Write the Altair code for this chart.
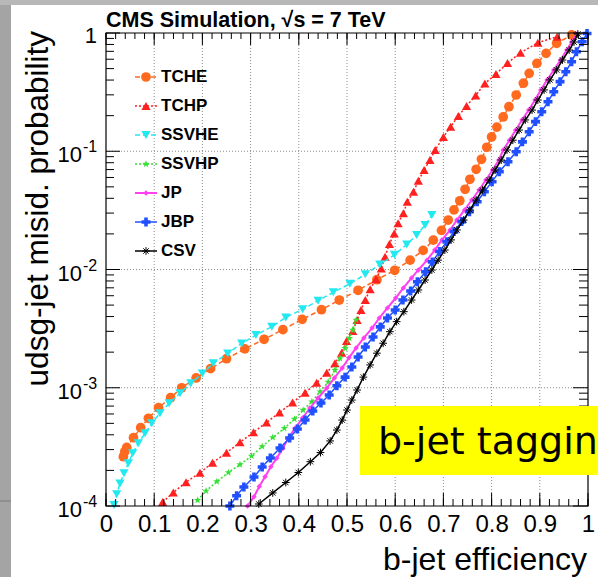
import altair as alt
import pandas as pd

W, H = 482, 473

series_names = ["TCHE", "TCHP", "SSVHE", "SSVHP", "JP", "JBP", "CSV"]

tche_eff = [0.036, 0.039, 0.043, 0.057, 0.072, 0.088, 0.109, 0.134, 0.157, 0.187, 0.217, 0.250, 0.288,
            0.328, 0.367, 0.407, 0.447, 0.484, 0.523, 0.562, 0.599, 0.631, 0.658, 0.679, 0.696, 0.710,
            0.722, 0.734, 0.745, 0.755, 0.768, 0.779, 0.790, 0.800, 0.811, 0.824, 0.836, 0.851, 0.866,
            0.878, 0.894, 0.913, 0.935, 0.966]
tche_mis = [2.61e-4, 2.88e-4, 3.13e-4, 3.78e-4, 4.59e-4, 5.52e-4, 6.78e-4, 8.24e-4, 1.0e-3, 1.21e-3,
            1.45e-3, 1.76e-3, 2.13e-3, 2.57e-3, 3.10e-3, 3.79e-3, 4.57e-3, 5.52e-3, 6.67e-3, 8.20e-3,
            9.85e-3, 1.20e-2, 1.45e-2, 1.77e-2, 2.14e-2, 2.62e-2, 3.19e-2, 3.81e-2, 4.77e-2, 5.79e-2,
            7.04e-2, 8.55e-2, 0.108, 0.132, 0.160, 0.195, 0.238, 0.299, 0.376, 0.456, 0.554, 0.673,
            0.818, 0.962]

tchp_eff = [0.1176, 0.1396, 0.166, 0.195, 0.221, 0.250, 0.278, 0.306, 0.333, 0.360, 0.387, 0.413,
            0.437, 0.458, 0.475, 0.489, 0.499, 0.512, 0.521, 0.529, 0.538, 0.548, 0.560, 0.571, 0.579,
            0.588, 0.598, 0.606, 0.617, 0.625, 0.638, 0.648, 0.660, 0.672, 0.683, 0.700, 0.715, 0.731,
            0.748, 0.767, 0.786, 0.809, 0.833, 0.860, 0.896, 0.936]
tchp_mis = [1.08e-4, 1.30e-4, 1.59e-4, 1.91e-4, 2.32e-4, 2.82e-4, 3.46e-4, 4.20e-4, 5.08e-4, 6.18e-4,
            7.50e-4, 9.08e-4, 1.10e-3, 1.34e-3, 1.61e-3, 1.98e-3, 2.48e-3, 3.02e-3, 3.74e-3, 4.55e-3,
            5.52e-3, 6.81e-3, 8.26e-3, 1.02e-2, 1.28e-2, 1.64e-2, 2.02e-2, 2.46e-2, 2.99e-2, 3.74e-2,
            4.55e-2, 5.63e-2, 6.94e-2, 8.43e-2, 0.1025, 0.132, 0.161, 0.199, 0.241, 0.296, 0.374,
            0.450, 0.557, 0.681, 0.828, 0.931]

ssvhe_eff = [0.0166, 0.0222, 0.029, 0.0373, 0.0463, 0.0554, 0.067, 0.081, 0.0948, 0.112, 0.131,
             0.1535, 0.176, 0.200, 0.2226, 0.2525, 0.2815, 0.311, 0.344, 0.373, 0.408, 0.440, 0.4716,
             0.506, 0.538, 0.568, 0.5985, 0.624, 0.6446, 0.662, 0.676]
ssvhe_mis = [1.02e-4, 1.26e-4, 1.55e-4, 1.89e-4, 2.30e-4, 2.79e-4, 3.39e-4, 4.12e-4, 5.01e-4, 6.08e-4,
             7.39e-4, 8.98e-4, 1.09e-3, 1.32e-3, 1.61e-3, 1.95e-3, 2.37e-3, 2.79e-3, 3.28e-3, 3.93e-3,
             4.61e-3, 5.44e-3, 6.41e-3, 7.57e-3, 9.10e-3, 1.10e-2, 1.33e-2, 1.63e-2, 1.96e-2, 2.38e-2,
             2.89e-2]

ssvhp_eff = [0.190, 0.2075, 0.230, 0.254, 0.278, 0.302, 0.324, 0.346, 0.370, 0.391, 0.409, 0.427,
             0.444, 0.461, 0.475, 0.4855, 0.496, 0.505, 0.512, 0.519]
ssvhp_mis = [1.12e-4, 1.34e-4, 1.61e-4, 1.92e-4, 2.24e-4, 2.65e-4, 3.19e-4, 3.80e-4, 4.54e-4, 5.44e-4,
             6.48e-4, 7.62e-4, 9.27e-4, 1.12e-3, 1.41e-3, 1.77e-3, 2.16e-3, 2.62e-3, 3.08e-3, 3.74e-3]

jp_eff = [0.2936, 0.307, 0.318, 0.330, 0.342, 0.354, 0.367, 0.378, 0.392, 0.408, 0.423, 0.440, 0.458,
          0.474, 0.490, 0.504, 0.519, 0.535, 0.552, 0.567, 0.584, 0.601, 0.617, 0.634, 0.648, 0.666,
          0.682, 0.697, 0.714, 0.728, 0.744, 0.759, 0.774, 0.788, 0.802, 0.815, 0.824, 0.837, 0.850,
          0.863, 0.877, 0.890, 0.902, 0.915, 0.929, 0.943, 0.956, 0.966, 0.977]
jp_mis = [1.00e-4, 1.20e-4, 1.46e-4, 1.77e-4, 2.15e-4, 2.53e-4, 3.08e-4, 3.73e-4, 4.54e-4, 5.55e-4,
          6.74e-4, 8.19e-4, 9.95e-4, 1.21e-3, 1.47e-3, 1.79e-3, 2.17e-3, 2.64e-3, 3.20e-3, 3.89e-3,
          4.73e-3, 5.74e-3, 6.98e-3, 8.48e-3, 9.91e-3, 1.20e-2, 1.46e-2, 1.78e-2, 2.16e-2, 2.62e-2,
          3.19e-2, 3.87e-2, 4.70e-2, 5.71e-2, 6.94e-2, 8.43e-2, 0.1025, 0.124, 0.151, 0.184, 0.223,
          0.271, 0.330, 0.401, 0.487, 0.591, 0.718, 0.839, 0.98]

jbp_eff = [0.257, 0.271, 0.286, 0.307, 0.324, 0.341, 0.361, 0.381, 0.397, 0.413, 0.429, 0.446, 0.463,
           0.479, 0.496, 0.510, 0.523, 0.538, 0.554, 0.569, 0.584, 0.600, 0.616, 0.632, 0.646, 0.663,
           0.677, 0.692, 0.707, 0.722, 0.738, 0.754, 0.770, 0.785, 0.801, 0.816, 0.834, 0.851, 0.864,
           0.878, 0.891, 0.904, 0.917, 0.929, 0.942, 0.954, 0.966, 0.976, 0.988, 0.998]
jbp_mis = [1.00e-4, 1.22e-4, 1.45e-4, 1.76e-4, 2.14e-4, 2.55e-4, 3.09e-4, 3.76e-4, 4.48e-4, 5.33e-4,
           6.36e-4, 7.43e-4, 8.69e-4, 1.04e-3, 1.23e-3, 1.50e-3, 1.82e-3, 2.21e-3, 2.69e-3, 3.27e-3,
           3.89e-3, 4.55e-3, 5.52e-3, 6.58e-3, 7.88e-3, 9.58e-3, 1.16e-2, 1.42e-2, 1.72e-2, 2.09e-2,
           2.54e-2, 3.08e-2, 3.74e-2, 4.55e-2, 5.53e-2, 6.72e-2, 8.16e-2, 9.91e-2, 0.120, 0.146,
           0.178, 0.216, 0.262, 0.319, 0.388, 0.471, 0.572, 0.695, 0.844, 0.99]

csv_eff = [0.317, 0.346, 0.373, 0.399, 0.424, 0.445, 0.465, 0.479, 0.490, 0.500, 0.510, 0.521, 0.534,
           0.548, 0.562, 0.575, 0.589, 0.603, 0.618, 0.634, 0.648, 0.662, 0.676, 0.689, 0.703, 0.716,
           0.728, 0.742, 0.755, 0.768, 0.781, 0.795, 0.807, 0.820, 0.832, 0.844, 0.857, 0.870, 0.884,
           0.896, 0.909, 0.921, 0.935, 0.947, 0.961, 0.971, 0.979]
csv_mis = [1.04e-4, 1.29e-4, 1.58e-4, 1.92e-4, 2.37e-4, 2.83e-4, 3.55e-4, 4.39e-4, 5.33e-4, 6.48e-4,
           7.87e-4, 9.57e-4, 1.23e-3, 1.56e-3, 1.96e-3, 2.38e-3, 2.98e-3, 3.62e-3, 4.40e-3, 5.52e-3,
           6.71e-3, 8.15e-3, 9.90e-3, 1.20e-2, 1.46e-2, 1.78e-2, 2.16e-2, 2.62e-2, 3.19e-2, 3.87e-2,
           4.70e-2, 5.71e-2, 6.94e-2, 8.43e-2, 0.1025, 0.124, 0.151, 0.184, 0.223, 0.271, 0.330,
           0.401, 0.487, 0.591, 0.718, 0.839, 0.98]

x_tick_labels = [0, 0.1, 0.2, 0.3, 0.4, 0.5, 0.6, 0.7, 0.8, 0.9, 1]
x_minor_ticks = [i / 50 for i in range(51)]
y_decades = [1e-4, 1e-3, 1e-2, 1e-1, 1]
y_exponents = ["-4", "-3", "-2", "-1"]
y_minor_ticks = [k * 10.0 ** e for e in (-4, -3, -2, -1) for k in range(2, 10)]

title_text = "CMS Simulation, √s = 7 TeV"
x_title = "b-jet efficiency"
y_title = "udsg-jet misid. probability"
banner_text = "b-jet tagging"

data = {
    "TCHE": (tche_eff, tche_mis), "TCHP": (tchp_eff, tchp_mis),
    "SSVHE": (ssvhe_eff, ssvhe_mis), "SSVHP": (ssvhp_eff, ssvhp_mis),
    "JP": (jp_eff, jp_mis), "JBP": (jbp_eff, jbp_mis), "CSV": (csv_eff, csv_mis),
}

ASTER = "M-1,0L1,0M0,-1L0,1M-0.7,-0.7L0.7,0.7M-0.7,0.7L0.7,-0.7"
STAR = ("M0,-1L0.235,-0.324L0.951,-0.309L0.38,0.124L0.588,0.809L0,0.4L-0.588,0.809"
        "L-0.38,0.124L-0.951,-0.309L-0.235,-0.324Z")
styles = {
    "TCHE": dict(color="#ff6a1f", dash=[5, 3], shape="circle", size=95, filled=True, sw=1.5),
    "TCHP": dict(color="#ff2020", dash=[2, 2], shape="triangle-up", size=85, filled=True, sw=1.5),
    "SSVHE": dict(color="#22e8f0", dash=[5, 3], shape="triangle-down", size=85, filled=True, sw=1.5),
    "SSVHP": dict(color="#33e033", dash=[2, 2], shape=STAR, size=60, filled=True, sw=1.5),
    "JP": dict(color="#ff40f0", dash=None, shape="diamond", size=30, filled=True, sw=2),
    "JBP": dict(color="#2050ff", dash=None, shape="cross", size=80, filled=True, sw=1.5),
    "CSV": dict(color="#000000", dash=None, shape=ASTER, size=60, filled=False, sw=1.5),
}

FONT = "Liberation Sans"
xscale = alt.Scale(domain=[0, 1], nice=False, zero=False)
yscale = alt.Scale(type="log", domain=[1e-4, 1], nice=False)
xaxis = alt.Axis(values=x_tick_labels, format=".1~f", labelFontSize=24, labelFont=FONT,
                 labelColor="black", ticks=False, domain=False, grid=False, title=None,
                 labelPadding=6, labelFlush=False, labelOverlap=False, orient="bottom")

one = pd.DataFrame({"a": [0]})
layers = []

# slide decoration
layers.append(alt.Chart(one).mark_rect(color="#a4a4a4").encode(
    x=alt.value(-106), x2=alt.value(-95), y=alt.value(-33), y2=alt.value(H + 71)))
layers.append(alt.Chart(one).mark_rect(color="#b8b8b8").encode(
    x=alt.value(-106), x2=alt.value(W + 10), y=alt.value(-33), y2=alt.value(-28)))
layers.append(alt.Chart(one).mark_rule(color="#7a7a7a", strokeWidth=1).encode(
    x=alt.value(-106), x2=alt.value(-95), y=alt.value(H - 5)))

# grid
gx = pd.DataFrame({"v": x_tick_labels[1:-1]})
gy = pd.DataFrame({"v": y_decades[1:-1]})
layers.append(alt.Chart(gx).mark_rule(color="#8c8c8c", strokeDash=[1, 2], strokeWidth=1).encode(
    x=alt.X("v:Q", scale=xscale, axis=xaxis), y=alt.value(0), y2=alt.value(H)))
layers.append(alt.Chart(gy).mark_rule(color="#8c8c8c", strokeDash=[1, 2], strokeWidth=1).encode(
    y=alt.Y("v:Q", scale=yscale, axis=None), x=alt.value(0), x2=alt.value(W)))

# curves
for name in series_names:
    eff, mis = data[name]
    df = pd.DataFrame({"eff": eff, "mis": mis})
    st = styles[name]
    lkw = dict(color=st["color"], strokeWidth=st["sw"])
    if st["dash"]:
        lkw["strokeDash"] = st["dash"]
    enc = dict(x=alt.X("eff:Q", scale=xscale, axis=xaxis), y=alt.Y("mis:Q", scale=yscale, axis=None))
    layers.append(alt.Chart(df).mark_line(**lkw).encode(**enc))
    if st["filled"]:
        pm = alt.Chart(df).mark_point(shape=st["shape"], size=st["size"], filled=True,
                                      color=st["color"], opacity=1, strokeWidth=0)
    else:
        pm = alt.Chart(df).mark_point(shape=st["shape"], size=st["size"], filled=False,
                                      color=st["color"], opacity=1, strokeWidth=1)
    layers.append(pm.encode(**enc))

# ticks (inward)
xmaj = pd.DataFrame({"v": x_tick_labels})
xmin = pd.DataFrame({"v": x_minor_ticks})
ymaj = pd.DataFrame({"v": y_decades})
ymin = pd.DataFrame({"v": y_minor_ticks})
tk = dict(color="black", strokeWidth=1)
for df, ln in ((xmaj, 13), (xmin, 7)):
    layers.append(alt.Chart(df).mark_rule(**tk).encode(
        x=alt.X("v:Q", scale=xscale, axis=xaxis), y=alt.value(H), y2=alt.value(H - ln)))
    layers.append(alt.Chart(df).mark_rule(**tk).encode(
        x=alt.X("v:Q", scale=xscale, axis=xaxis), y=alt.value(0), y2=alt.value(ln - 1)))
for df, ln, rn in ((ymaj, 14, 15), (ymin, 8, 9)):
    layers.append(alt.Chart(df).mark_rule(**tk).encode(
        y=alt.Y("v:Q", scale=yscale, axis=None), x=alt.value(0), x2=alt.value(ln)))
    layers.append(alt.Chart(df).mark_rule(**tk).encode(
        y=alt.Y("v:Q", scale=yscale, axis=None), x=alt.value(W), x2=alt.value(W - rn)))

# frame
layers.append(alt.Chart(one).mark_rect(filled=False, color="black", strokeWidth=1.2).encode(
    x=alt.value(0), x2=alt.value(W), y=alt.value(0), y2=alt.value(H)))

# legend
for i, name in enumerate(series_names):
    st = styles[name]
    ly = 44 + 29 * i
    ldf = pd.DataFrame({"name": [name]})
    lkw = dict(color=st["color"], strokeWidth=st["sw"])
    if st["dash"]:
        lkw["strokeDash"] = st["dash"]
    layers.append(alt.Chart(ldf).mark_rule(**lkw).encode(
        x=alt.value(29), x2=alt.value(51), y=alt.value(ly)))
    if st["filled"]:
        pm = alt.Chart(ldf).mark_point(shape=st["shape"], size=st["size"], filled=True,
                                       color=st["color"], opacity=1, strokeWidth=0)
    else:
        pm = alt.Chart(ldf).mark_point(shape=st["shape"], size=st["size"], filled=False,
                                       color=st["color"], opacity=1, strokeWidth=1)
    layers.append(pm.encode(x=alt.value(40), y=alt.value(ly)))
    layers.append(alt.Chart(ldf).mark_text(align="left", baseline="middle", font=FONT,
                                           fontWeight="bold", fontSize=17, color="black").encode(
        x=alt.value(55), y=alt.value(ly), text="name:N"))

# y labels
ylab = pd.DataFrame({"v": y_decades[:-1], "base": ["10"] * 4, "exp": y_exponents})
layers.append(alt.Chart(ylab).mark_text(align="right", baseline="middle", font=FONT, fontSize=22,
                                        color="black", dy=4).encode(
    y=alt.Y("v:Q", scale=yscale, axis=None), x=alt.value(-24), text="base:N"))
layers.append(alt.Chart(ylab).mark_text(align="left", baseline="middle", font=FONT, fontSize=16,
                                        color="black", dy=-4).encode(
    y=alt.Y("v:Q", scale=yscale, axis=None), x=alt.value(-23), text="exp:N"))
ytop = pd.DataFrame({"v": [1], "base": ["1"]})
layers.append(alt.Chart(ytop).mark_text(align="right", baseline="middle", font=FONT, fontSize=22,
                                        color="black", dy=3).encode(
    y=alt.Y("v:Q", scale=yscale, axis=None), x=alt.value(-9), text="base:N"))

# titles
layers.append(alt.Chart(one).mark_text(align="left", baseline="alphabetic", font=FONT,
                                       fontWeight="bold", fontSize=21.5, color="black").encode(
    x=alt.value(0), y=alt.value(-6), text=alt.value(title_text)))
layers.append(alt.Chart(one).mark_text(align="right", baseline="alphabetic", font=FONT,
                                       fontSize=32, color="black").encode(
    x=alt.value(W - 1), y=alt.value(537), text=alt.value(x_title)))
layers.append(alt.Chart(one).mark_text(align="right", baseline="alphabetic", font=FONT,
                                       fontSize=31.5, color="black", angle=270).encode(
    x=alt.value(-58), y=alt.value(-2), text=alt.value(y_title)))

# banner
layers.append(alt.Chart(one).mark_rect(color="#ffff00").encode(
    x=alt.value(254), x2=alt.value(W + 20), y=alt.value(373), y2=alt.value(442)))
layers.append(alt.Chart(one).mark_text(align="left", baseline="alphabetic", font="DejaVu Sans",
                                       fontSize=38, color="black").encode(
    x=alt.value(272), y=alt.value(421), text=alt.value(banner_text)))

chart = alt.layer(*layers).properties(
    width=W, height=H,
    padding={"left": 106, "top": 33, "right": 10, "bottom": 71},
    autosize=alt.AutoSizeParams(type="none"),
    background="white",
).configure_view(stroke=None)

chart.save("out.html", embed_options={"renderer": "svg", "actions": False})
